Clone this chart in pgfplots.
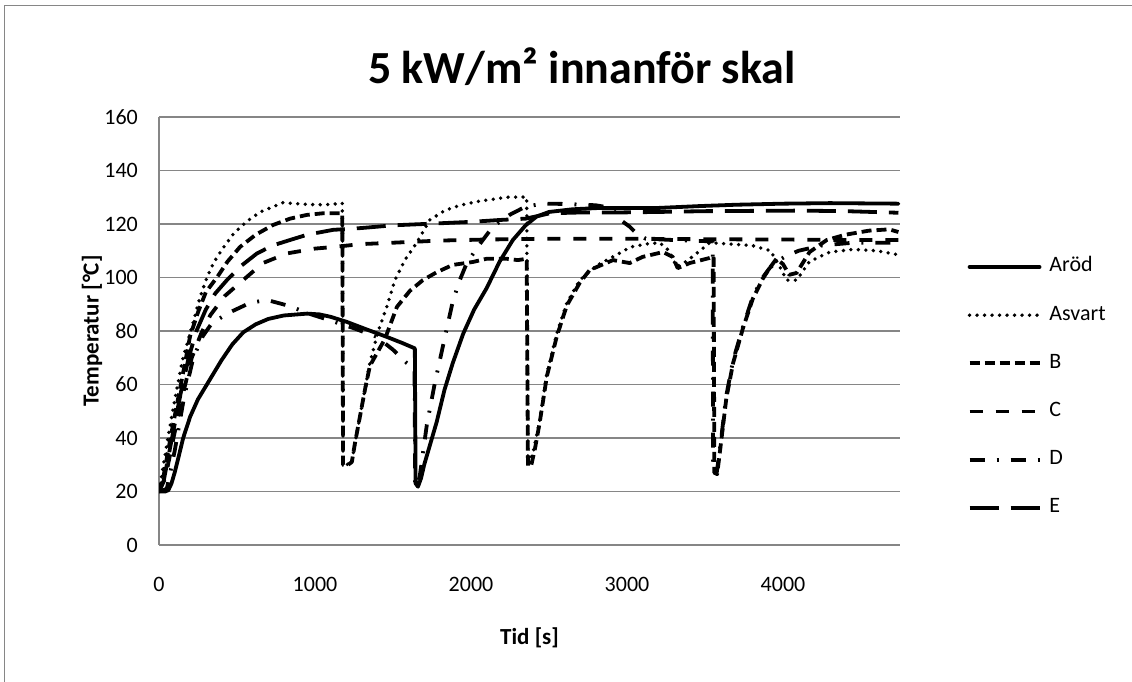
\documentclass[border=0pt]{standalone}
\usepackage{fontspec}
\setmainfont{Carlito}
\usepackage{pgfplots}
\pgfplotsset{compat=1.18}
\definecolor{gridgray}{RGB}{134,134,134}
\begin{document}
\begin{tikzpicture}[x=1pt,y=1pt]
\path[use as bounding box] (0,0) rectangle (1132,682);
\draw[gridgray, line width=1pt] (4,0) -- (4,676) -- (1132,676);
\node[font=\fontsize{46}{50}\selectfont\bfseries] at (582,615) {5 kW/m² innanför skal};
\begin{axis}[
  at={(159pt,137pt)}, anchor=south west,
  scale only axis, width=741pt, height=428pt,
  xmin=0, xmax=4750, ymin=0, ymax=160,
  xtick={0,1000,2000,3000,4000}, ytick={0,20,...,160},
  major tick length=0pt,
  axis x line*=bottom, axis y line*=left,
  axis line style={gridgray, line width=1.3pt, -},
  ymajorgrids, grid style={gridgray, line width=1.3pt},
  /pgf/number format/assume math mode=true,
  /pgf/number format/set thousands separator={},
  every x tick label/.style={font=\fontsize{22}{24}\selectfont, anchor=center, yshift=-39pt},
  every y tick label/.style={font=\fontsize{22}{24}\selectfont, anchor=east, inner sep=0pt, xshift=-21pt},
  xlabel={\bfseries Tid [s]}, ylabel={\bfseries Temperatur [°C]},
  label style={font=\fontsize{23}{25}\selectfont},
  xlabel style={at={(0.5,-0.217)}, anchor=center},
  ylabel style={at={(-0.0904,0.5)}, anchor=center},
  legend cell align=left,
  legend style={at={(1.087,0.368)}, anchor=west, draw=none, fill=none,
    font=\fontsize{22}{24}\selectfont, row sep=28.2pt,
    nodes={inner sep=0pt, text height=15pt, text depth=5pt},
    /tikz/every odd column/.style={column sep=8pt}},
  legend image code/.code={\draw[#1] (0pt,0pt) -- (70pt,0pt);},
  every axis plot/.append style={black, line width=3.8pt, line join=round},
  clip=true,
]
\addplot[line cap=round] coordinates {(0,20)(40,20)(60,20.5)(80,23)(100,27)(130,34)(155,40)(200,48)(250,54.5)(307,60)(400,69)(470,75)(540,79.5)(620,82.5)(700,84.5)(800,85.8)(950,86.5)(1030,86.2)(1100,85.3)(1204,83.4)(1330,80.6)(1460,77.8)(1560,75.5)(1640,73.5)(1645,23)(1660,21.8)(1680,25)(1700,30)(1740,38)(1780,46)(1830,58)(1883,68)(1950,79)(2020,88)(2100,96)(2184,106)(2268,114)(2350,119.5)(2421,122.8)(2500,124.5)(2650,125.5)(2825,126)(3000,126)(3200,126)(3466,126.7)(3700,127.2)(4000,127.6)(4300,127.8)(4740,127.6)};
\addlegendentry{Aröd}
\addplot[line cap=round, dash pattern=on 0pt off 7.5pt] coordinates {(0,20)(20,27)(60,41)(100,54)(150,69)(218,83)(260,92)(307,100)(350,105.5)(410,111)(480,116.5)(563,121)(650,124.5)(795,128)(900,127.5)(1000,127.2)(1100,127.3)(1175,127.8)(1180,32)(1210,30)(1236,31)(1256,38)(1288,48)(1320,58)(1352,68)(1403,79.6)(1460,89)(1512,99)(1576,106.5)(1652,113)(1736,121.5)(1830,125)(1928,127)(2050,128.5)(2229,130)(2357,130.1)(2365,30.5)(2396,34)(2441,46.7)(2486,64)(2550,79)(2614,90.5)(2697,99)(2806,104.5)(2934,108.5)(3024,111.4)(3120,112.5)(3210,113)(3270,110)(3318,104)(3380,106)(3446,109)(3530,113)(3650,112.5)(3800,112)(3920,110)(3980,104)(4023,99)(4087,99)(4170,106)(4300,109.5)(4450,110.5)(4600,110)(4740,108.5)};
\addlegendentry{Asvart}
\addplot[dash pattern=on 10pt off 5pt] coordinates {(0,20)(30,26)(80,42)(130,57)(170,69)(199,78)(250,87)(300,94.5)(371,100)(440,106)(519,111.4)(620,116)(730,119.6)(840,122)(948,123.4)(1050,124)(1175,124)(1180,30)(1200,29.5)(1236,31)(1256,38)(1288,48)(1320,58)(1352,67)(1400,72)(1448,77)(1525,89)(1608,95)(1691,99)(1781,102)(1883,104.7)(2012,105.8)(2100,107)(2229,107)(2300,106.5)(2357,107)(2365,29.5)(2385,29.5)(2410,36)(2441,46)(2486,63)(2550,78)(2614,89.5)(2697,98)(2761,102.8)(2910,106.5)(3017,105.4)(3100,107.7)(3230,109.5)(3293,107.7)(3325,103.5)(3402,105.4)(3530,107.3)(3555,108)(3560,27)(3578,26.5)(3600,37)(3637,55)(3680,68)(3743,81)(3806,92)(3870,99.5)(3914,103.5)(3958,107)(4000,105)(4040,101)(4087,101.7)(4170,109.5)(4280,114)(4400,116)(4550,117.5)(4680,118)(4740,117)};
\addlegendentry{B}
\addplot[dash pattern=on 13pt off 13pt] coordinates {(0,20)(40,25)(100,42)(160,58)(210,70)(270,79)(330,86)(420,93)(519,98)(666,105.4)(820,109)(1000,110.8)(1115,111.4)(1300,112.5)(1500,113)(1800,113.8)(2100,114.2)(2500,114.5)(3000,114.5)(3500,114.3)(4000,114.2)(4400,114)(4740,114)};
\addlegendentry{C}
\addplot[dash pattern=on 15pt off 12pt on 2pt off 12pt] coordinates {(0,20)(50,21)(100,35)(160,55)(220,70)(280,78)(340,83)(455,87)(583,90.5)(692,91.6)(839,89.3)(960,86.5)(1095,84)(1250,81)(1396,77.8)(1500,73)(1589,68)(1638,66)(1642,23)(1655,21.8)(1672,26)(1717,45)(1768,60.5)(1800,69)(1830,77)(1883,91)(1928,99)(1973,105.4)(2050,112)(2140,119)(2250,123.5)(2350,126.5)(2460,127.6)(2600,127.5)(2800,127)(2900,126)(2970,121)(3017,119)(3060,116.5)(3120,114.5)(3300,114)(3549,113.5)(3552,27)(3575,27)(3600,38)(3637,56)(3680,69)(3743,81.5)(3806,92.7)(3870,100)(3914,103.5)(3960,106)(4020,108)(4100,110)(4250,112)(4450,113)(4740,113)};
\addlegendentry{D}
\addplot[dash pattern=on 29pt off 12pt] coordinates {(0,20)(30,24)(90,42)(140,57)(190,70)(240,80)(300,88)(360,94)(435,99)(530,104.5)(628,109)(730,112)(839,114)(950,116)(1115,117.8)(1300,118.5)(1500,119.5)(1700,120)(2000,120.8)(2185,121.5)(2350,122)(2430,123)(2505,124)(2700,124.3)(2934,124.3)(3200,124.5)(3500,124.8)(3800,124.9)(4100,125)(4400,124.8)(4740,124.2)};
\addlegendentry{E}
\end{axis}
\end{tikzpicture}
\end{document}
